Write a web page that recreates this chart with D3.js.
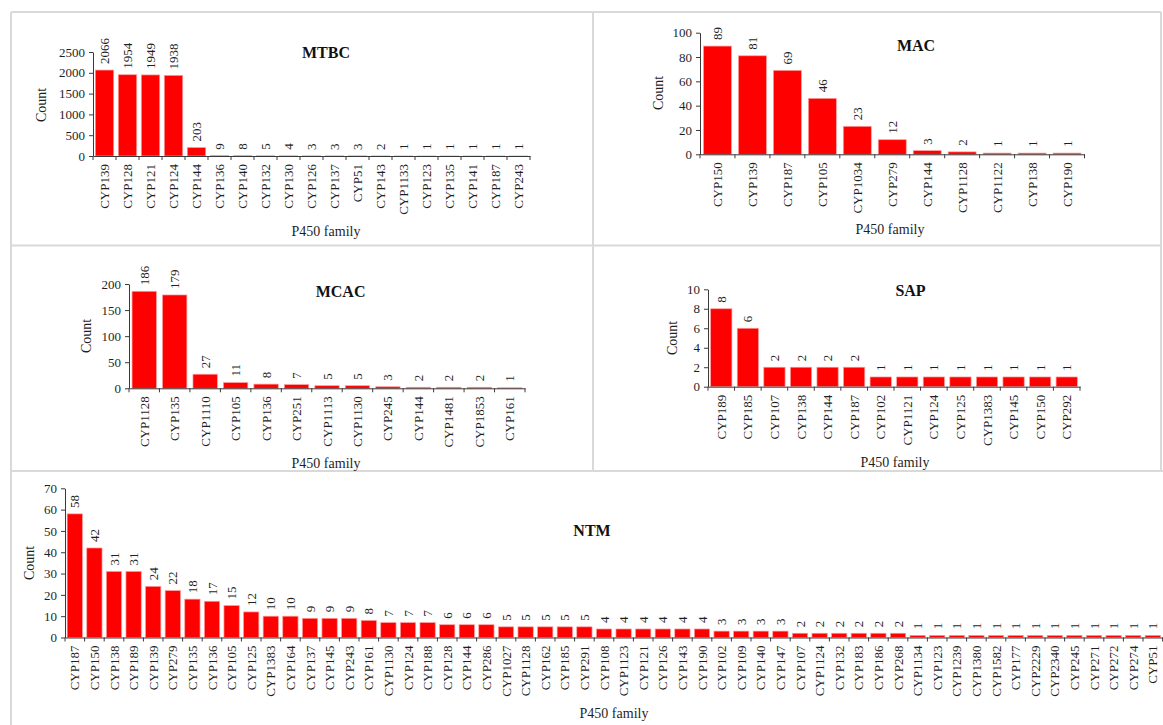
<!DOCTYPE html>
<html>
<head>
<meta charset="utf-8">
<script src="https://cdn.jsdelivr.net/npm/d3@7"></script>
<style>
  html, body { margin: 0; padding: 0; background: #fff; }
  svg { display: block; font-family: "Liberation Serif", "Times New Roman", serif; }
</style>
</head>
<body>
<svg id="chart" width="1163" height="725"></svg>
<script>
// ---- Data: P450 family counts per group ----
const mtbcFamilies = ["CYP139","CYP128","CYP121","CYP124","CYP144","CYP136","CYP140","CYP132","CYP130","CYP126","CYP137","CYP51","CYP143","CYP1133","CYP123","CYP135","CYP141","CYP187","CYP243"];
const mtbcCounts   = [2066,1954,1949,1938,203,9,8,5,4,3,3,3,2,1,1,1,1,1,1];
const mtbcTicks    = [0,500,1000,1500,2000,2500];

const macFamilies = ["CYP150","CYP139","CYP187","CYP105","CYP1034","CYP279","CYP144","CYP1128","CYP1122","CYP138","CYP190"];
const macCounts   = [89,81,69,46,23,12,3,2,1,1,1];
const macTicks    = [0,20,40,60,80,100];

const mcacFamilies = ["CYP1128","CYP135","CYP1110","CYP105","CYP136","CYP251","CYP1113","CYP1130","CYP245","CYP144","CYP1481","CYP1853","CYP161"];
const mcacCounts   = [186,179,27,11,8,7,5,5,3,2,2,2,1];
const mcacTicks    = [0,50,100,150,200];

const sapFamilies = ["CYP189","CYP185","CYP107","CYP138","CYP144","CYP187","CYP102","CYP1121","CYP124","CYP125","CYP1383","CYP145","CYP150","CYP292"];
const sapCounts   = [8,6,2,2,2,2,1,1,1,1,1,1,1,1];
const sapTicks    = [0,2,4,6,8,10];

const ntmFamilies = ["CYP187","CYP150","CYP138","CYP189","CYP139","CYP279","CYP135","CYP136","CYP105","CYP125","CYP1383","CYP164","CYP137","CYP145","CYP243","CYP161","CYP1130","CYP124","CYP188","CYP128","CYP144","CYP286","CYP1027","CYP1128","CYP162","CYP185","CYP291","CYP108","CYP1123","CYP121","CYP126","CYP143","CYP190","CYP102","CYP109","CYP140","CYP147","CYP107","CYP1124","CYP132","CYP183","CYP186","CYP268","CYP1134","CYP123","CYP1239","CYP1380","CYP1582","CYP177","CYP2229","CYP2340","CYP245","CYP271","CYP272","CYP274","CYP51"];
const ntmCounts   = [58,42,31,31,24,22,18,17,15,12,10,10,9,9,9,8,7,7,7,6,6,6,5,5,5,5,5,4,4,4,4,4,4,3,3,3,3,2,2,2,2,2,2,1,1,1,1,1,1,1,1,1,1,1,1,1];
const ntmTicks    = [0,10,20,30,40,50,60,70];

// ---- Panel layout (plot area edges and label anchors) ----
const panels = [
  { name: "MTBC", cats: mtbcFamilies, vals: mtbcCounts, ticks: mtbcTicks,
    x0: 93, x1: 530, y0: 156, yTop: 52, pad: 0.2,
    title: [326, 57.5], count: [41, 105], xlab: [326, 236] },
  { name: "MAC", cats: macFamilies, vals: macCounts, ticks: macTicks,
    x0: 700, x1: 1084.5, y0: 154.3, yTop: 32.7, pad: 0.2,
    title: [916, 51], count: [658, 93], xlab: [890, 234] },
  { name: "MCAC", cats: mcacFamilies, vals: mcacCounts, ticks: mcacTicks,
    x0: 129, x1: 525, y0: 388.3, yTop: 284, pad: 0.2,
    title: [340.6, 296.5], count: [86, 336], xlab: [326, 468] },
  { name: "SAP", cats: sapFamilies, vals: sapCounts, ticks: sapTicks,
    x0: 708, x1: 1080, y0: 386.7, yTop: 289.3, pad: 0.2,
    title: [910.5, 296], count: [672, 338], xlab: [895, 467] },
  { name: "NTM", cats: ntmFamilies, vals: ntmCounts, ticks: ntmTicks,
    x0: 65, x1: 1162.6, y0: 637.5, yTop: 488.3, pad: 0.22,
    title: [592, 535.5], count: [29, 563], xlab: [614, 718] }
];

const svg = d3.select("#chart");
const textColor = "#1f1f1f";
const axisColor = "#3a3a3a";

// ---- Panel frame lines ----
const frame = svg.append("g").attr("stroke", "#d9d9d9").attr("stroke-width", 2).attr("fill", "none");
[[11, 12, 1161, 12], [11, 12, 11, 725], [1161, 12, 1161, 471],
 [593, 12, 593, 471], [11, 245.5, 1161, 245.5], [11, 471, 1163, 471]]
  .forEach(([a, b, c, d]) => frame.append("line").attr("x1", a).attr("y1", b).attr("x2", c).attr("y2", d));

function drawPanel(p) {
  const g = svg.append("g").attr("class", "panel-" + p.name);
  const max = p.ticks[p.ticks.length - 1];

  const x = d3.scaleBand().domain(p.cats).range([p.x0, p.x1])
    .paddingInner(p.pad).paddingOuter(p.pad / 2);
  const y = d3.scaleLinear().domain([0, max]).range([p.y0, p.yTop]);
  const data = p.cats.map((c, i) => ({ cat: c, val: p.vals[i] }));

  // bars
  g.append("g").selectAll("rect").data(data).join("rect")
    .attr("x", d => x(d.cat))
    .attr("y", d => y(d.val))
    .attr("width", x.bandwidth())
    .attr("height", d => y(0) - y(d.val))
    .attr("fill", "#ff0000")
    .attr("stroke", "#ff9c9c")
    .attr("stroke-width", 0.7);

  // value labels, rotated
  g.append("g").selectAll("text").data(data).join("text")
    .attr("transform", d => `translate(${x(d.cat) + x.bandwidth() / 2},${y(d.val) - 6}) rotate(-90)`)
    .attr("dy", "0.35em")
    .attr("text-anchor", "start")
    .attr("font-size", 13)
    .attr("fill", textColor)
    .text(d => d.val);

  // y axis
  const ya = g.append("g").attr("transform", `translate(${p.x0},0)`)
    .call(d3.axisLeft(y).tickValues(p.ticks).tickSize(4).tickSizeOuter(0).tickPadding(4).tickFormat(d3.format("d")))
    .attr("font-family", null).attr("font-size", 13);
  ya.select(".domain").attr("stroke", axisColor);
  ya.selectAll(".tick line").attr("stroke", axisColor);
  ya.selectAll("text").attr("fill", textColor);

  // x axis with category labels
  const xa = g.append("g").attr("transform", `translate(0,${p.y0})`)
    .call(d3.axisBottom(x).tickSize(0).tickSizeOuter(0).tickPadding(0))
    .attr("font-family", null).attr("font-size", 13);
  xa.select(".domain").attr("stroke", axisColor);
  xa.selectAll("text")
    .attr("transform", "rotate(-90)")
    .attr("text-anchor", "end")
    .attr("x", -8).attr("y", 0).attr("dy", "0.35em")
    .attr("fill", textColor);

  // tick marks on category boundaries
  const bounds = d3.range(p.cats.length + 1).map(i => x.range()[0] + i * x.step());
  g.append("g").selectAll("line").data(bounds).join("line")
    .attr("x1", d => d).attr("x2", d => d)
    .attr("y1", p.y0).attr("y2", p.y0 + 4)
    .attr("stroke", axisColor);

  // titles
  g.append("text").attr("x", p.title[0]).attr("y", p.title[1])
    .attr("text-anchor", "middle").attr("font-weight", "bold").attr("font-size", 16)
    .attr("fill", "#111").text(p.name);
  g.append("text")
    .attr("transform", `translate(${p.count[0]},${p.count[1]}) rotate(-90)`)
    .attr("text-anchor", "middle").attr("dy", "0.35em").attr("font-size", 14)
    .attr("fill", textColor).text("Count");
  g.append("text").attr("x", p.xlab[0]).attr("y", p.xlab[1])
    .attr("text-anchor", "middle").attr("font-size", 14)
    .attr("fill", textColor).text("P450 family");
}

panels.forEach(drawPanel);
</script>
</body>
</html>
